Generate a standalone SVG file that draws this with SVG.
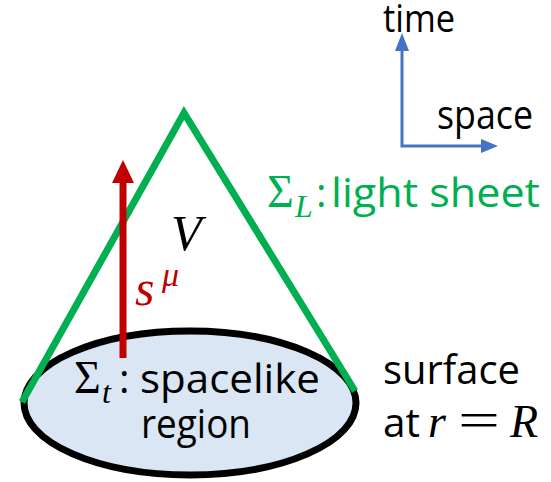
<svg xmlns="http://www.w3.org/2000/svg" width="551" height="482" viewBox="0 0 551 482">
<style>
.sans{font-family:"Open Sans","Liberation Sans",sans-serif;}
.math{font-family:"Liberation Serif","DejaVu Serif",serif;}
.it{font-style:italic;}
</style>
<rect width="551" height="482" fill="#ffffff"/>
<g id="region">
<ellipse cx="190" cy="403" rx="166" ry="72" fill="#DAE6F3" stroke="#000000" stroke-width="7"/>
</g>
<g id="lightsheet">
<polyline points="22,402 184,113 355,391" fill="none" stroke="#00B050" stroke-width="7" stroke-linejoin="miter"/>
</g>
<g id="connectors">
<g id="current-arrow">
<line x1="123" y1="358" x2="123" y2="180" stroke="#C00000" stroke-width="7"/>
<polygon points="123,160 112,183 134,183" fill="#C00000"/>
</g>
<g id="axes">
<polyline points="402,50 402,146 482,146" fill="none" stroke="#4472C4" stroke-width="3"/>
<polygon points="402,33 395,51 409,51" fill="#4472C4"/>
<polygon points="498,146 481,139 481,153" fill="#4472C4"/>
</g>
</g>
<g id="labels">
<text x="383" y="32" class="sans" font-size="38" fill="#000" textLength="72" lengthAdjust="spacingAndGlyphs">time</text>
<text x="437" y="129" class="sans" font-size="40" fill="#000" textLength="96" lengthAdjust="spacingAndGlyphs">space</text>
<text x="171" y="250" class="math it" font-size="50" fill="#000">V</text>
<text x="135" y="305" class="math it" font-size="50" fill="#C00000">s</text>
<text x="162" y="286" class="math it" font-size="34" fill="#C00000">μ</text>
<g fill="#00B050">
<text x="267" y="207" class="math" font-size="46">Σ</text>
<text x="295" y="217" class="math it" font-size="32">L</text>
<text x="316" y="207" class="sans" font-size="40">:</text>
<text x="331" y="207" class="sans" font-size="40" textLength="209" lengthAdjust="spacingAndGlyphs">light sheet</text>
</g>
<text x="74" y="393" class="math" font-size="46" fill="#000">Σ</text>
<text x="102" y="403" class="math it" font-size="32" fill="#000">t</text>
<text x="119" y="393" class="sans" font-size="40" fill="#000">:</text>
<text x="140" y="393" class="sans" font-size="40" fill="#000" textLength="180" lengthAdjust="spacingAndGlyphs">spacelike</text>
<text x="141" y="438" class="sans" font-size="40" fill="#000" textLength="110" lengthAdjust="spacingAndGlyphs">region</text>
<text x="383" y="384" class="sans" font-size="40" fill="#000" textLength="137" lengthAdjust="spacingAndGlyphs">surface</text>
<text x="383" y="437" class="sans" font-size="40" fill="#000" textLength="37" lengthAdjust="spacingAndGlyphs">at</text>
<text x="428" y="437" class="math it" font-size="46" fill="#000">r</text>
<text x="458" y="437" class="math" font-size="50" fill="#000" textLength="42" lengthAdjust="spacingAndGlyphs">=</text>
<text x="510" y="437" class="math it" font-size="46" fill="#000">R</text>
</g>
</svg>
